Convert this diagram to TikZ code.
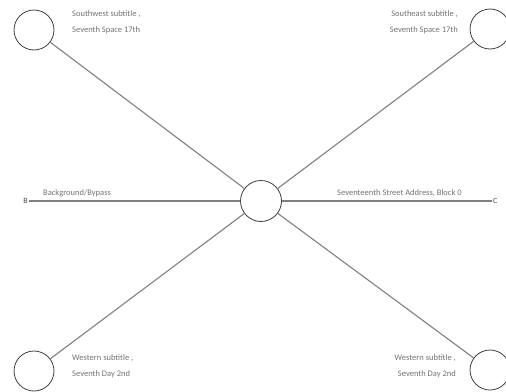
\documentclass[tikz,border=0pt]{standalone}
\usepackage{fontspec}
\setmainfont{Carlito}
\begin{document}
\begin{tikzpicture}[x=1pt,y=-1pt,
  hub/.style={circle,draw=black!75,line width=0.8pt,minimum size=41pt,inner sep=0pt,fill=white},
  spoke/.style={draw=black!50,line width=1.1pt},
  lbl/.style={text=black!55,font=\fontsize{8.5}{16}\selectfont,inner sep=0pt,align=left},
  lblr/.style={text=black!55,font=\fontsize{8.5}{16}\selectfont,inner sep=0pt,align=right},
  endmark/.style={text=black!70,font=\fontsize{8}{9}\selectfont,inner sep=1pt}]
\useasboundingbox (0,0) rectangle (506,391);
\node[hub] (c) at (261,201) {};
\node[hub,minimum size=40pt] (tl) at (34,30) {};
\node[hub,minimum size=40pt] (tr) at (490,29) {};
\node[hub,minimum size=40pt] (bl) at (34,371) {};
\node[hub,minimum size=40pt] (br) at (490,370) {};
\node[endmark,anchor=east] (b) at (29,201) {B};
\node[endmark,anchor=west] (e) at (492,201) {C};
\draw[spoke] (tl) -- (c);
\draw[spoke] (tr) -- (c);
\draw[spoke] (bl) -- (c);
\draw[spoke] (br) -- (c);
\draw[spoke] (b.east) -- (c.west);
\draw[spoke] (c.east) -- (e.west);
\node[lbl,anchor=north west] (ttl) at (72,10) {Southwest subtitle ,\\Seventh Space 17th};
\node[lblr,anchor=north east] (ttr) at (458,10) {Southeast subtitle ,\\Seventh Space 17th};
\node[lbl,anchor=north west] (tbl) at (72,354) {Western subtitle ,\\Seventh Day 2nd};
\node[lblr,anchor=north east] (tbr) at (456,354) {Western subtitle ,\\Seventh Day 2nd};
\node[lbl,anchor=south west] (tb) at (43,197) {Background/Bypass};
\node[lbl,anchor=south west] (te) at (337,197) {Seventeenth Street Address, Block 0};
\end{tikzpicture}
\end{document}
